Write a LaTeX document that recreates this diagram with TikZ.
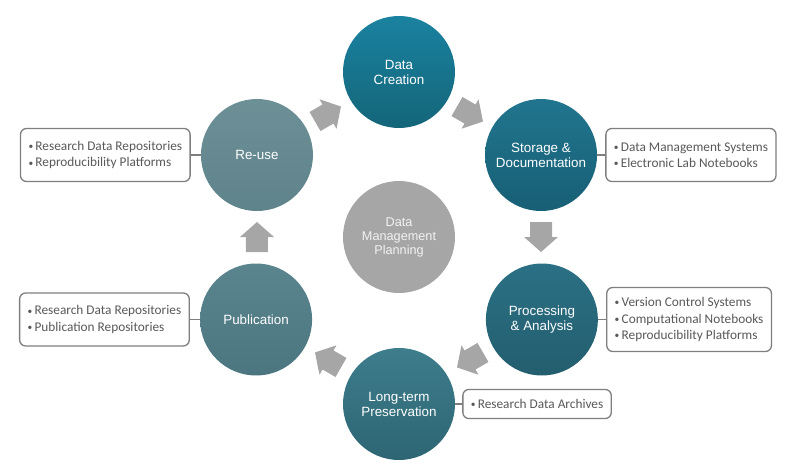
\documentclass[tikz,border=0pt]{standalone}
\usepackage{fontspec}
\newfontfamily\circfont{Liberation Sans}
\newfontfamily\boxfont{Carlito}
\usetikzlibrary{positioning}
\definecolor{boxline}{HTML}{7F7F7F}
\definecolor{boxtext}{HTML}{595959}
\definecolor{arrowgray}{HTML}{A6A6A6}
\definecolor{planninggray}{HTML}{A6A6A6}
\newcommand\tooldot{\raisebox{0.12ex}{\fontsize{9.5}{9.5}\selectfont •}\,}

\begin{document}
\begin{tikzpicture}[x=1pt,y=1pt,
  stage/.style={circle,minimum size=112pt,inner sep=0pt,align=center,text=white,
    font=\circfont\fontsize{13.4}{15}\selectfont},
  toolbox/.style={draw=boxline,line width=1.3pt,rounded corners=6pt,fill=white,
    align=left,text=boxtext,inner xsep=8pt,inner ysep=4pt,
    font=\boxfont\fontsize{13.3}{16.5}\selectfont},
  link/.style={draw=boxline,line width=1.3pt},
  cyclearrow/.style={fill=arrowgray}]
\useasboundingbox (-399,-229) rectangle (390,237);
% stages of the cycle
\draw (90:165) node[stage,top color={rgb,255:red,26;green,130;blue,160},bottom color={rgb,255:red,20;green,101;blue,121}] (creation) {Data\\Creation};
\draw (30:164) node[stage,top color={rgb,255:red,33;green,117;blue,142},bottom color={rgb,255:red,23;green,95;blue,117}] (storage) {Storage \&\\Documentation};
\draw (-30:165) node[stage,top color={rgb,255:red,43;green,112;blue,133},bottom color={rgb,255:red,35;green,94;blue,110}] (processing) {Processing\\\& Analysis};
\draw (-90:167) node[stage,top color={rgb,255:red,62;green,125;blue,140},bottom color={rgb,255:red,45;green,101;blue,115}] (longterm) {Long-term\\Preservation};
\draw (-150:165) node[stage,top color={rgb,255:red,90;green,132;blue,142},bottom color={rgb,255:red,75;green,117;blue,127}] (publication) {Publication};
\draw (150:164) node[stage,top color={rgb,255:red,109;green,144;blue,151},bottom color={rgb,255:red,95;green,131;blue,139}] (reuse) {Re-use};
\draw (0,0) node[stage,fill=planninggray,text={rgb,255:red,242;green,242;blue,242},font=\circfont\fontsize{12.7}{14}\selectfont] (planning) {Data\\Management\\Planning};
% tool boxes
\node[toolbox,minimum height=53pt,right=8pt of storage] (storagebox) {\tooldot Data Management Systems\\\tooldot Electronic Lab Notebooks};
\node[toolbox,minimum height=64pt,right=8pt of processing] (processingbox) {\tooldot Version Control Systems\\\tooldot Computational Notebooks\\\tooldot Reproducibility Platforms};
\node[toolbox,minimum height=29pt,right=7pt of longterm] (longtermbox) {\tooldot Research Data Archives};
\node[toolbox,minimum height=53pt,left=10pt of publication] (publicationbox) {\tooldot Research Data Repositories\\\tooldot Publication Repositories};
\node[toolbox,minimum height=53pt,left=10pt of reuse] (reusebox) {\tooldot Research Data Repositories\\\tooldot Reproducibility Platforms};
\path[-] (storage) edge[link] (storagebox);
\path[-] (processing) edge[link] (processingbox);
\path[-] (longterm) edge[link] (longtermbox);
\path[-] (publication) edge[link] (publicationbox);
\path[-] (reuse) edge[link] (reusebox);
% block arrows between the stages
\foreach \a in {60,0,-60,-120,180,120}
  \fill[cyclearrow,shift={(\a:142)},rotate=\a-90] (-15,-11) -- (0,-11) -- (0,-17) -- (15,0) -- (0,17) -- (0,11) -- (-15,11) -- cycle;
\end{tikzpicture}
\end{document}
